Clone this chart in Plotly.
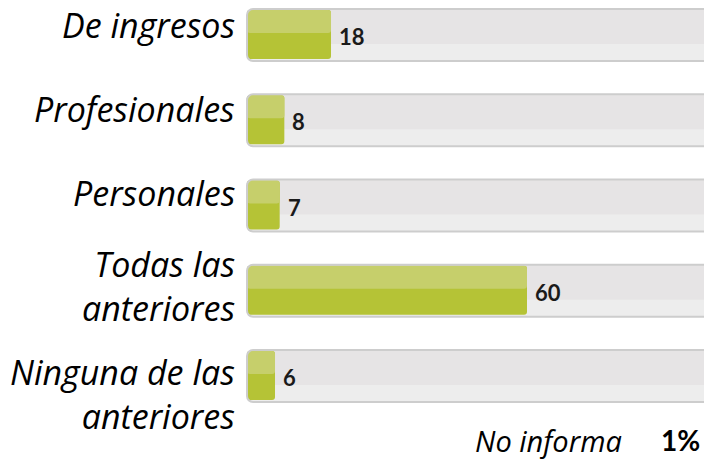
import plotly.graph_objects as go

# Survey answers and their shares (%)
categories = ["De ingresos", "Profesionales", "Personales",
              "Todas las<br>anteriores", "Ninguna de las<br>anteriores"]
values = [18, 8, 7, 60, 6]
track_max = 100
no_answer_label = "No informa"
no_answer_value = "1%"

positions = list(range(len(categories)))

TRACK_FILL = "#e6e4e5"
TRACK_FILL_LOW = "#ededed"
TRACK_LINE = "#cdcdcd"
GREEN_LIGHT = "#c6cf6b"
GREEN_DARK = "#b5c336"
LABEL_FONT = "Open Sans"
VALUE_FONT = "Lato"

# Plot area geometry (pixels) used to place footer text
MARGIN_L = 236
PLOT_W = 704 - MARGIN_L
PLOT_H = 459


def paper_x(px):
    return (px - MARGIN_L) / PLOT_W


def paper_y(py):
    return 1 - py / PLOT_H


fig = go.Figure()

# Grey background track (drawn from the far end back to 0 so the rounded corners sit on the left)
fig.add_trace(go.Bar(
    y=positions, x=[-track_max] * len(positions), base=[track_max] * len(positions),
    orientation="h", width=0.61, offset=-0.305,
    marker=dict(color=TRACK_FILL, line=dict(width=0), cornerradius=6),
    hoverinfo="skip", showlegend=False,
))
# Slightly lighter lower part of the track
fig.add_trace(go.Bar(
    y=positions, x=[-track_max] * len(positions), base=[track_max] * len(positions),
    orientation="h", width=0.2, offset=0.105,
    marker=dict(color=TRACK_FILL_LOW, line=dict(width=0), cornerradius=4),
    hoverinfo="skip", showlegend=False,
))

# Green value bars: darker full bar, lighter upper half on top
fig.add_trace(go.Bar(
    y=positions, x=[-v for v in values], base=values,
    orientation="h", width=0.575, offset=-0.293,
    marker=dict(color=GREEN_DARK, line=dict(width=0), cornerradius=3),
    hoverinfo="skip", showlegend=False,
))
fig.add_trace(go.Bar(
    y=positions, x=[-v for v in values], base=values,
    orientation="h", width=0.27, offset=-0.293,
    marker=dict(color=GREEN_LIGHT, line=dict(width=0), cornerradius=3),
    hoverinfo="skip", showlegend=False,
))

# Track outline on top
fig.add_trace(go.Bar(
    y=positions, x=[-track_max] * len(positions), base=[track_max] * len(positions),
    orientation="h", width=0.61, offset=-0.305,
    marker=dict(color="rgba(0,0,0,0)", line=dict(width=2, color=TRACK_LINE), cornerradius=6),
    hoverinfo="skip", showlegend=False,
))

# Category labels to the left of each track
label_shifts = [10, 11, 13, 5, -18]
for pos, cat, dy in zip(positions, categories, label_shifts):
    fig.add_annotation(
        x=0, xref="paper", y=pos, yref="y", text=cat, showarrow=False,
        xanchor="right", yanchor="middle", align="right", xshift=1, yshift=dy,
        font=dict(family=LABEL_FONT, size=34, color="#000000", style="italic"),
    )

# Value labels after each bar end
for pos, v in zip(positions, values):
    fig.add_annotation(
        x=v, xref="x", y=pos, yref="y", text=str(v), showarrow=False,
        xanchor="left", yanchor="middle", xshift=6, yshift=-1.5,
        font=dict(family=VALUE_FONT, size=22, color="#1a1a1a", weight="bold"),
    )

# Footer: share of respondents with no answer
fig.add_annotation(
    x=paper_x(623), xref="paper", y=paper_y(440), yref="paper", text=no_answer_label,
    showarrow=False, xanchor="right", yanchor="middle", borderpad=0,
    font=dict(family=LABEL_FONT, size=29, color="#000000", style="italic"),
)
fig.add_annotation(
    x=paper_x(701), xref="paper", y=paper_y(440), yref="paper", text=no_answer_value,
    showarrow=False, xanchor="right", yanchor="middle", borderpad=0,
    font=dict(family=VALUE_FONT, size=28, color="#000000", weight="bold"),
)

fig.update_layout(
    width=704, height=459,
    margin=dict(l=MARGIN_L, r=0, t=0, b=0),
    paper_bgcolor="white", plot_bgcolor="white",
    barmode="overlay",
    xaxis=dict(range=[-2.36, 97.93], visible=False, fixedrange=True),
    yaxis=dict(range=[4.9736, -0.4106], visible=False, fixedrange=True),
)

fig.write_html("out.html")
